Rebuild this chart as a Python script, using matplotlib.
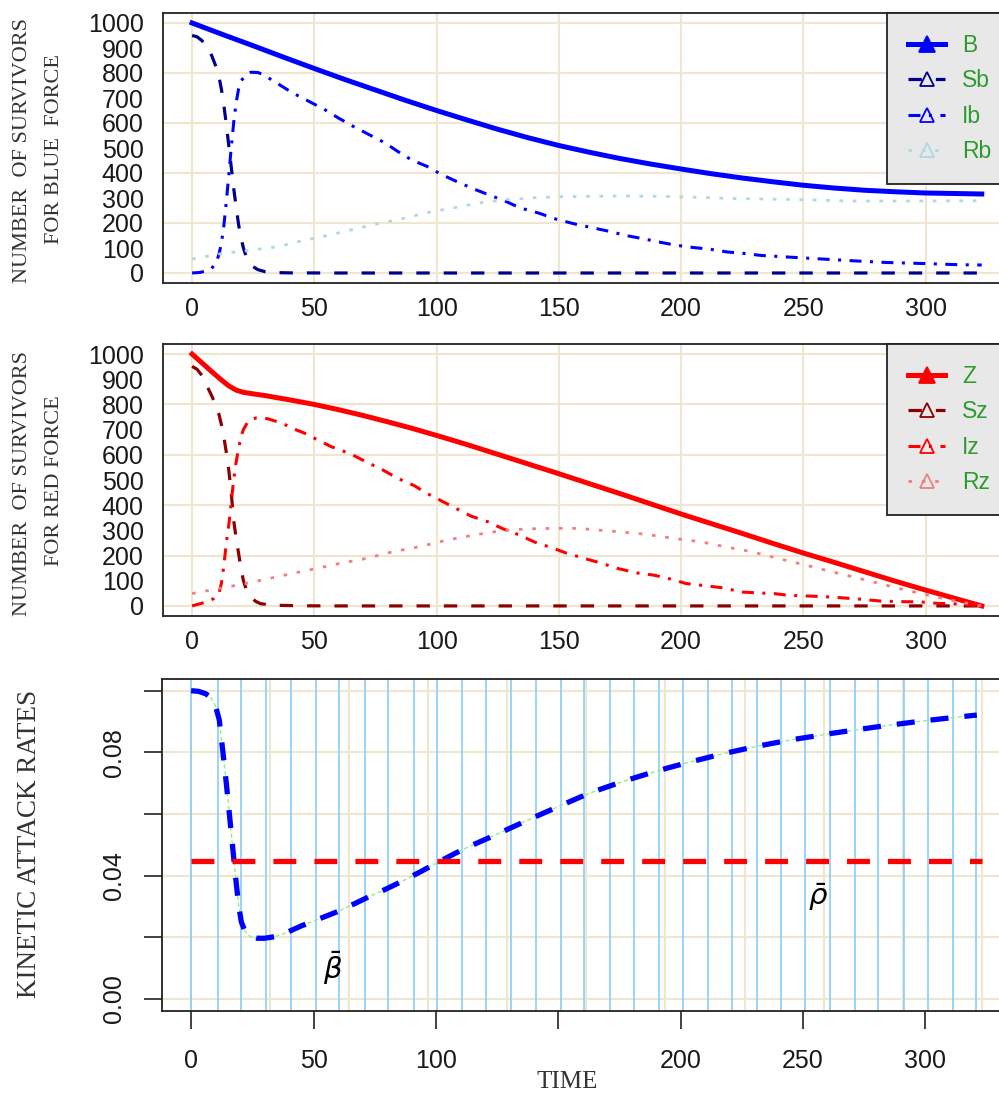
import matplotlib
matplotlib.use("Agg")
import matplotlib.pyplot as plt
from matplotlib.lines import Line2D

plt.rcParams['lines.scale_dashes'] = False
plt.rcParams['font.family'] = ['Liberation Sans', 'DejaVu Sans']
plt.rcParams['mathtext.fontset'] = 'dejavusans'

# ---------------- Blue force ----------------
t_B = [0, 12.5, 25, 37.5, 50, 62.5, 75, 87.5, 100, 112.5, 125, 137.5, 150, 162.5, 175, 187.5, 200, 212.5, 225,
       237.5, 250, 262.5, 275, 287.5, 300, 312, 323]
B = [1000, 954, 909, 863, 818, 774, 732, 690, 650, 612, 575, 541, 510, 483, 458, 436, 416, 397, 380, 365, 351,
     340, 331, 325, 320, 318, 316]

t_Sb = [0, 2, 4, 6, 8, 10, 11, 12, 13, 14, 15, 16, 17, 18, 19, 20, 21, 22, 23, 25, 27, 30, 35, 40, 60, 323]
Sb = [950, 945, 930, 905, 870, 820, 785, 735, 670, 595, 510, 425, 340, 265, 195, 140, 100, 70, 50, 25, 13, 5, 1.5, 0.5, 0, 0]

t_Ib = [0, 3, 6, 8, 10, 11, 12, 13, 14, 15, 16, 17, 18, 19, 20, 22, 24, 27, 30, 41, 54, 60, 66, 79, 84, 90, 96,
        102, 108, 115, 121, 128, 134, 142, 149, 157, 170, 178, 184, 192, 198, 205, 212, 219, 226, 233, 240,
        247, 254, 270, 284, 299, 314, 323]
Ib = [0, 2, 8, 18, 45, 75, 120, 190, 285, 390, 500, 600, 680, 735, 768, 792, 803, 802, 788, 721, 655, 619, 586,
      520, 487, 451, 427, 394, 367, 337, 314, 288, 261, 239, 215, 195, 168, 149, 138, 122, 111, 102, 95, 84, 78,
      70, 66, 62, 58, 49, 42, 38, 33, 32]

t_Rb = [0, 11, 22, 35, 45, 55, 66, 75, 85, 96, 107, 118, 129, 140, 151, 165, 178, 200, 221, 246, 270, 295, 323]
Rb = [56, 76, 89, 105, 129, 149, 175, 195, 215, 241, 261, 281, 294, 301, 305, 307, 308, 305, 298, 294, 288, 288, 289]

# ---------------- Red force ----------------
t_Z = [0, 3, 6, 9, 12, 15, 18, 21, 25, 30, 40, 50, 60, 70, 80, 90, 100, 112, 125, 137, 150, 162, 175, 187, 200,
       212, 225, 237, 250, 262, 275, 287, 300, 312, 323]
Z = [1000, 974, 948, 922, 897, 874, 857, 848, 842, 835, 818, 800, 779, 756, 731, 705, 677, 642, 602, 565, 525,
     487, 446, 407, 365, 328, 288, 250, 210, 175, 136, 100, 63, 30, 0]

t_Sz = [0, 2, 4, 6, 8, 10, 11, 12, 13, 14, 15, 16, 17, 18, 19, 20, 21, 22, 24, 26, 28, 32, 37, 45, 60, 323]
Sz = [951, 940, 915, 875, 835, 790, 760, 720, 670, 610, 540, 450, 340, 270, 210, 150, 100, 70, 35, 18, 9, 4, 2,
      0.5, 0, 0]

t_Iz = [0, 6, 9, 11, 12, 13, 14, 15, 16, 17, 18, 19, 20, 21, 23, 26, 29, 31, 37, 41, 46, 52, 57, 65, 71, 78,
        84, 91, 96, 102, 108, 114, 121, 127, 134, 140, 148, 153, 160, 168, 174, 182, 189, 196, 202, 210, 217,
        225, 231, 238, 244, 253, 262, 273, 282, 290, 298, 305, 311, 319, 323]
Iz = [0, 16, 30, 50, 90, 160, 250, 320, 410, 500, 570, 625, 672, 700, 735, 746, 746, 743, 725, 705, 686, 656,
      632, 603, 573, 540, 507, 477, 447, 417, 387, 357, 334, 307, 281, 254, 228, 210, 190, 168, 149, 131, 122,
      106, 89, 80, 72, 55, 52, 49, 42, 39, 35, 27, 19, 17, 16, 10, 9, 3, 0]

t_Rz = [0, 11, 22, 32, 41, 51, 60, 71, 82, 93, 104, 115, 126, 137, 148, 158, 164, 175, 186, 197, 208, 218, 229,
        240, 251, 262, 273, 284, 295, 306, 314, 323]
Rz = [49, 69, 89, 110, 129, 149, 168, 188, 215, 235, 261, 281, 298, 306, 308, 308, 303, 294, 284, 268, 255, 235,
      215, 188, 162, 135, 109, 82, 56, 32, 16, 0]

# ---------------- Kinetic attack rates ----------------
t_beta = [0, 3, 6, 8, 10, 11.5, 13, 14.5, 15.5, 16.5, 17.5, 18.5, 19.5, 20.5, 22, 24, 27, 30, 34, 38, 45, 53,
          60, 67, 73, 80, 87, 94, 101, 108, 114, 122, 127, 135, 142, 150, 159, 166, 174, 181, 188, 195, 202,
          210, 217, 225, 232, 240, 247, 255, 262, 269, 276, 284, 292, 300, 308, 315, 321]
beta = [0.1000, 0.0998, 0.0990, 0.0978, 0.0950, 0.0905, 0.0800, 0.0690, 0.0610, 0.0530, 0.0450, 0.0370,
        0.0300, 0.0250, 0.0220, 0.0203, 0.0197, 0.0197, 0.0202, 0.0212, 0.0237, 0.0262, 0.0284, 0.0310,
        0.0333, 0.0358, 0.0385, 0.0414, 0.0444, 0.0473, 0.0496, 0.0524, 0.0542, 0.0571, 0.0596, 0.0624,
        0.0655, 0.0677, 0.0699, 0.0717, 0.0734, 0.0750, 0.0765, 0.0781, 0.0795, 0.0809, 0.0821, 0.0833,
        0.0843, 0.0853, 0.0862, 0.0870, 0.0878, 0.0887, 0.0895, 0.0903, 0.0910, 0.0916, 0.0921]

t_rho = [0, 323]
rho = 0.0448

event_times = [0, 10.8, 20.5, 30.7, 40.8, 50.9, 60.5, 71, 80.5, 90.9, 100.3, 110.8, 120.6, 130.8, 140.7, 151,
               160.7, 171.3, 180.9, 191.1, 200.9, 211.3, 220.9, 231.2, 240.8, 251, 260.9, 271.2, 280.8, 291.2,
               301, 311.2, 320.8]
rate_grid_times = [0, 32.3, 64.6, 96.9, 129.2, 161.5, 193.8, 226.1, 258.4, 290.7, 323]

survivor_ticks = [0, 100, 200, 300, 400, 500, 600, 700, 800, 900, 1000]
survivor_grid = [0, 200, 400, 600, 800, 1000]
time_ticks = [0, 50, 100, 150, 200, 250, 300]
rate_ticks = [0.00, 0.02, 0.04, 0.06, 0.08, 0.10]
rate_tick_labels = ['0.00', '', '0.04', '', '0.08', '']
rate_time_labels = ['0', '50', '100', '', '200', '250', '300']

# ---------------- styles ----------------
GRID = '#EEE6CF'
TXT = '#1a1a1a'
LAB = '#333333'
LEG_TXT = '#2E9B2E'
SERIF = ['Liberation Serif', 'DejaVu Serif']
XLIM = (-11.9, 336.6)

DASH = (0, (9.6, 10.1))
DASHDOT = (0, (8.6, 6.1, 2.2, 6.1))
DOT = (0, (2.6, 7.0))

W, H = 999, 1100
fig = plt.figure(figsize=(W / 100, H / 100), dpi=100)


def px_axes(left, top, right, bottom):
    return fig.add_axes([left / W, 1 - bottom / H, (right - left) / W, (bottom - top) / H])


def survivor_panel(top, bottom, series, names, line1, line2):
    ax = px_axes(163, top, 1015, bottom)
    ax.set_xlim(*XLIM)
    ax.set_ylim(-40, 1040)
    for g in survivor_grid:
        ax.axhline(g, color=GRID, lw=1.5, zorder=0)
    for g in time_ticks:
        ax.axvline(g, color=GRID, lw=1.5, zorder=0)
    handles = []
    for (t, v, color, ls, lw, filled) in series:
        ax.plot(t, v, color=color, ls=ls, lw=lw, zorder=3)
        handles.append(Line2D([], [], color=color, ls=ls, lw=lw, marker='^', markersize=11 if filled else 9.5,
                              markerfacecolor=color if filled else 'none', markeredgecolor=color,
                              markeredgewidth=1.3))
    ax.set_yticks(survivor_ticks)
    ax.set_xticks(time_ticks)
    ax.tick_params(axis='both', length=0, labelsize=18, colors=TXT)
    ax.tick_params(axis='y', pad=14)
    ax.tick_params(axis='x', pad=10)
    for s in ax.spines.values():
        s.set_color('#222222')
        s.set_linewidth(1.3)
    leg = ax.legend(handles, names, loc='upper left', bbox_to_anchor=((887 - 163) / (1015 - 163), 1.0),
                    borderaxespad=0, fontsize=16.5, frameon=True, fancybox=False, framealpha=1,
                    facecolor='#E8E8E8', edgecolor='#222222', handlelength=1.6, handletextpad=0.75,
                    borderpad=0.93, labelspacing=0.53)
    leg.get_frame().set_linewidth(1.3)
    for txt in leg.get_texts():
        txt.set_color(LEG_TXT)
    mid = (top + bottom) / 2
    fig.text(23 / W, 1 - (mid + 3) / H, line1, rotation=90, ha='center', va='center', fontsize=16,
             family=SERIF, color=LAB)
    fig.text(55 / W, 1 - (mid + 1) / H, line2, rotation=90, ha='center', va='center', fontsize=16,
             family=SERIF, color=LAB)
    return ax


survivor_panel(13, 283, [
    (t_B, B, '#0000FF', '-', 3.6, True),
    (t_Sb, Sb, '#00008B', DASH, 2.3, False),
    (t_Ib, Ib, '#0000FF', DASHDOT, 2.2, False),
    (t_Rb, Rb, '#ADD8E6', DOT, 2.0, False),
], ['B', 'Sb', 'Ib', 'Rb'], 'NUMBER  OF SURVIVORS', 'FOR BLUE  FORCE')

survivor_panel(344, 616, [
    (t_Z, Z, '#FF0000', '-', 3.6, True),
    (t_Sz, Sz, '#8B0000', DASH, 2.3, False),
    (t_Iz, Iz, '#FF0000', DASHDOT, 2.2, False),
    (t_Rz, Rz, '#F08080', DOT, 2.0, False),
], ['Z', 'Sz', 'Iz', 'Rz'], 'NUMBER  OF SURVIVORS', 'FOR RED FORCE')

# ---------------- rates panel ----------------
ax = px_axes(162, 679, 1015, 1011)
ax.set_xlim(*XLIM)
ax.set_ylim(-0.0039, 0.1038)
for g in rate_ticks:
    ax.axhline(g, color=GRID, lw=1.5, zorder=0)
for g in rate_grid_times:
    ax.axvline(g, color=GRID, lw=1.5, zorder=0)
for t in event_times:
    ax.axvline(t, color='#87CEFA', lw=1.2, zorder=1)
ax.plot(t_beta, beta, color='#90EE90', lw=1.0, ls=(0, (3, 2)), zorder=2)
ax.plot(t_beta, beta, color='#0000FF', lw=3.8, ls=(0, (13, 11.5)), zorder=3)
ax.plot(t_rho, [rho, rho], color='#FF0000', lw=3.8, ls=(0, (16.5, 13)), zorder=4)
ax.text(58, 0.0100, r'$\bar{\beta}$', fontsize=21, ha='center', va='center', color='black')
ax.text(256, 0.0332, r'$\bar{\rho}$', fontsize=21, ha='center', va='center', color='black')

ax.set_yticks(rate_ticks)
ax.set_yticklabels(rate_tick_labels, rotation=90, va='center')
ax.set_xticks(time_ticks)
ax.set_xticklabels(rate_time_labels)
ax.tick_params(axis='both', length=13, width=1.2, colors='#222222', labelsize=18, labelcolor=TXT)
ax.tick_params(axis='x', pad=14)
ax.tick_params(axis='y', pad=13)
for s in ax.spines.values():
    s.set_color('#222222')
    s.set_linewidth(1.3)

fig.text(30 / W, 1 - 844 / H, 'KINETIC ATTACK RATES', rotation=90, ha='center', va='center',
         fontsize=19.5, family=SERIF, color=LAB)
fig.text(567 / W, 1 - 1082 / H, 'TIME', ha='center', va='center', fontsize=18, family=SERIF, color=LAB)

fig.savefig('out.png', dpi=100)
